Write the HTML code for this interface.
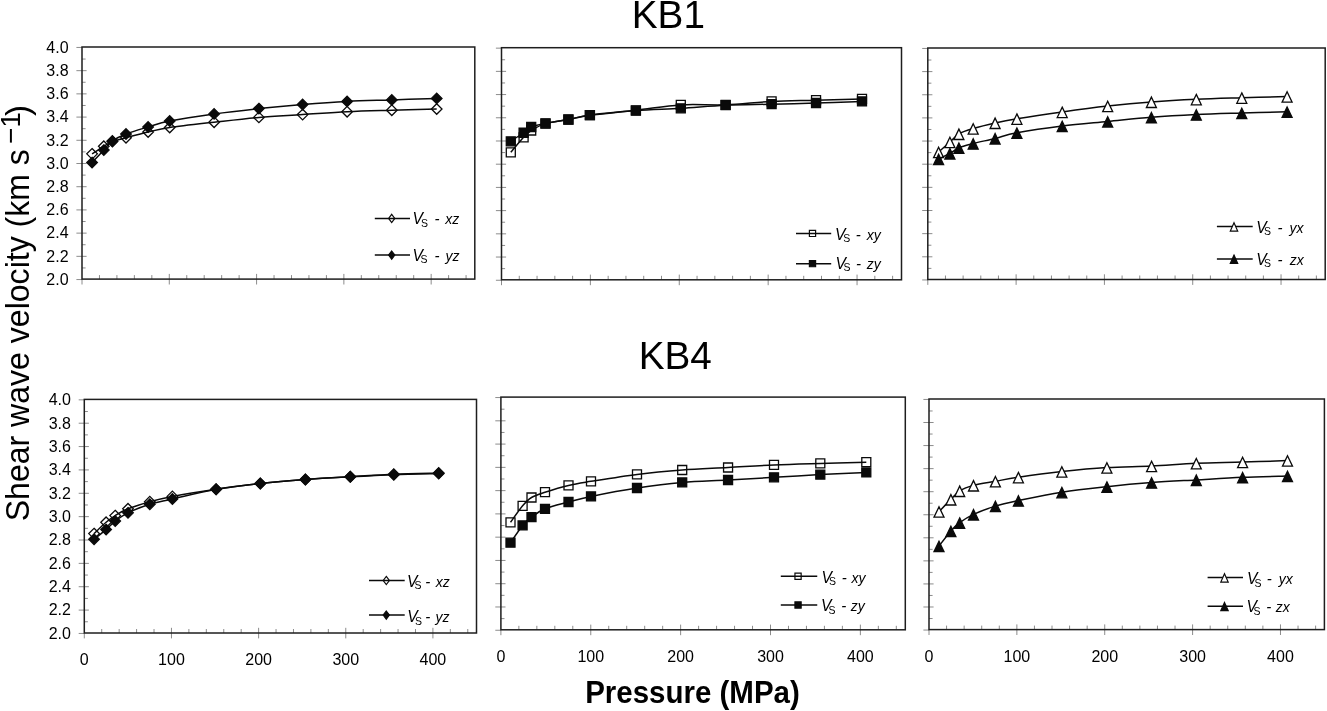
<!DOCTYPE html>
<html lang="en">
<head>
<meta charset="utf-8">
<title>Shear wave velocity vs pressure: KB1, KB4</title>
<style>
html,body{margin:0;padding:0;background:#fff;}
body{width:1327px;height:711px;overflow:hidden;}
svg text{font-family:"Liberation Sans", sans-serif;}
</style>
</head>
<body>
<svg width="1327" height="711" viewBox="0 0 1327 711" font-family='"Liberation Sans", sans-serif' style="display:block">
<g>
<path d="M76.4 279.55H82M82 267.94H85.6M76.4 256.34H86.6M82 244.74H85.6M76.4 233.13H86.6M82 221.53H85.6M76.4 209.92H86.6M82 198.31H85.6M76.4 186.71H86.6M82 175.11H85.6M76.4 163.5H86.6M82 151.89H85.6M76.4 140.29H86.6M82 128.69H85.6M76.4 117.08H86.6M82 105.48H85.6M76.4 93.87H86.6M82 82.26H85.6M76.4 70.66H86.6M82 59.05H85.6M76.4 47.45H82M82 279.1V284.5M99.46 275.1V279.1M116.92 275.1V279.1M134.37 275.1V279.1M151.83 275.1V279.1M169.29 273.9V284.5M186.75 275.1V279.1M204.2 275.1V279.1M221.66 275.1V279.1M239.12 275.1V279.1M256.58 273.9V284.5M274.04 275.1V279.1M291.49 275.1V279.1M308.95 275.1V279.1M326.41 275.1V279.1M343.87 273.9V284.5M361.32 275.1V279.1M378.78 275.1V279.1M396.24 275.1V279.1M413.7 275.1V279.1M431.16 273.9V284.5M448.61 275.1V279.1M466.07 275.1V279.1" stroke="#8c8c8c" stroke-width="1" fill="none"/>
<rect x="82" y="47" width="392.8" height="232.1" fill="none" stroke="#1e1e1e" stroke-width="1.5"/>
<g><polygon points="92.06,148.55 97.36,153.85 92.06,159.15 86.76,153.85" fill="#fff" stroke="#0a0a0a" stroke-width="1.3" stroke-linejoin="miter"/><polygon points="103.8,141 109.1,146.3 103.8,151.6 98.5,146.3" fill="#fff" stroke="#0a0a0a" stroke-width="1.3" stroke-linejoin="miter"/><polygon points="112.4,136.2 117.7,141.5 112.4,146.8 107.1,141.5" fill="#fff" stroke="#0a0a0a" stroke-width="1.3" stroke-linejoin="miter"/><polygon points="126,132.4 131.3,137.7 126,143 120.7,137.7" fill="#fff" stroke="#0a0a0a" stroke-width="1.3" stroke-linejoin="miter"/><polygon points="148.1,126.7 153.4,132 148.1,137.3 142.8,132" fill="#fff" stroke="#0a0a0a" stroke-width="1.3" stroke-linejoin="miter"/><polygon points="169.7,122.2 175,127.5 169.7,132.8 164.4,127.5" fill="#fff" stroke="#0a0a0a" stroke-width="1.3" stroke-linejoin="miter"/><polygon points="214.1,116.9 219.4,122.2 214.1,127.5 208.8,122.2" fill="#fff" stroke="#0a0a0a" stroke-width="1.3" stroke-linejoin="miter"/><polygon points="258.9,112.1 264.2,117.4 258.9,122.7 253.6,117.4" fill="#fff" stroke="#0a0a0a" stroke-width="1.3" stroke-linejoin="miter"/><polygon points="302.6,109.3 307.9,114.6 302.6,119.9 297.3,114.6" fill="#fff" stroke="#0a0a0a" stroke-width="1.3" stroke-linejoin="miter"/><polygon points="347.1,106.4 352.4,111.7 347.1,117 341.8,111.7" fill="#fff" stroke="#0a0a0a" stroke-width="1.3" stroke-linejoin="miter"/><polygon points="391.8,104.9 397.1,110.2 391.8,115.5 386.5,110.2" fill="#fff" stroke="#0a0a0a" stroke-width="1.3" stroke-linejoin="miter"/><polygon points="436.7,103.7 442,109 436.7,114.3 431.4,109" fill="#fff" stroke="#0a0a0a" stroke-width="1.3" stroke-linejoin="miter"/></g>
<path d="M92.06 153.85C94.02 152.59 100.41 148.36 103.8 146.3C107.19 144.24 108.7 142.93 112.4 141.5C116.1 140.07 120.05 139.28 126 137.7C131.95 136.12 140.82 133.7 148.1 132C155.38 130.3 158.7 129.13 169.7 127.5C180.7 125.87 199.23 123.88 214.1 122.2C228.97 120.52 244.15 118.67 258.9 117.4C273.65 116.13 287.9 115.55 302.6 114.6C317.3 113.65 332.23 112.43 347.1 111.7C361.97 110.97 376.87 110.65 391.8 110.2C406.73 109.75 429.22 109.2 436.7 109" fill="none" stroke="#0a0a0a" stroke-width="1.5"/>
<path d="M92.06 162.6C94.02 160.52 100.41 153.7 103.8 150.1C107.19 146.5 108.7 143.68 112.4 141C116.1 138.32 120.05 136.33 126 134C131.95 131.67 140.82 129.17 148.1 127C155.38 124.83 158.7 123.18 169.7 121C180.7 118.82 199.23 115.97 214.1 113.9C228.97 111.83 244.15 110.17 258.9 108.6C273.65 107.03 287.9 105.7 302.6 104.5C317.3 103.3 332.23 102.17 347.1 101.4C361.97 100.63 376.87 100.4 391.8 99.9C406.73 99.4 429.22 98.65 436.7 98.4" fill="none" stroke="#0a0a0a" stroke-width="1.5"/>
<g><polygon points="92.06,157.3 97.36,162.6 92.06,167.9 86.76,162.6" fill="#0a0a0a" stroke="#0a0a0a" stroke-width="1.3" stroke-linejoin="miter"/><polygon points="103.8,144.8 109.1,150.1 103.8,155.4 98.5,150.1" fill="#0a0a0a" stroke="#0a0a0a" stroke-width="1.3" stroke-linejoin="miter"/><polygon points="112.4,135.7 117.7,141 112.4,146.3 107.1,141" fill="#0a0a0a" stroke="#0a0a0a" stroke-width="1.3" stroke-linejoin="miter"/><polygon points="126,128.7 131.3,134 126,139.3 120.7,134" fill="#0a0a0a" stroke="#0a0a0a" stroke-width="1.3" stroke-linejoin="miter"/><polygon points="148.1,121.7 153.4,127 148.1,132.3 142.8,127" fill="#0a0a0a" stroke="#0a0a0a" stroke-width="1.3" stroke-linejoin="miter"/><polygon points="169.7,115.7 175,121 169.7,126.3 164.4,121" fill="#0a0a0a" stroke="#0a0a0a" stroke-width="1.3" stroke-linejoin="miter"/><polygon points="214.1,108.6 219.4,113.9 214.1,119.2 208.8,113.9" fill="#0a0a0a" stroke="#0a0a0a" stroke-width="1.3" stroke-linejoin="miter"/><polygon points="258.9,103.3 264.2,108.6 258.9,113.9 253.6,108.6" fill="#0a0a0a" stroke="#0a0a0a" stroke-width="1.3" stroke-linejoin="miter"/><polygon points="302.6,99.2 307.9,104.5 302.6,109.8 297.3,104.5" fill="#0a0a0a" stroke="#0a0a0a" stroke-width="1.3" stroke-linejoin="miter"/><polygon points="347.1,96.1 352.4,101.4 347.1,106.7 341.8,101.4" fill="#0a0a0a" stroke="#0a0a0a" stroke-width="1.3" stroke-linejoin="miter"/><polygon points="391.8,94.6 397.1,99.9 391.8,105.2 386.5,99.9" fill="#0a0a0a" stroke="#0a0a0a" stroke-width="1.3" stroke-linejoin="miter"/><polygon points="436.7,93.1 442,98.4 436.7,103.7 431.4,98.4" fill="#0a0a0a" stroke="#0a0a0a" stroke-width="1.3" stroke-linejoin="miter"/></g>
<polygon points="391.7,214.3 394.8,218.4 391.7,222.5 388.6,218.4" fill="#fff" stroke="#0a0a0a" stroke-width="1.2"/>
<path d="M374.8 218.4H410" stroke="#0a0a0a" stroke-width="1.5"/>
<polygon points="391.7,251 394.8,255.1 391.7,259.2 388.6,255.1" fill="#0a0a0a" stroke="#0a0a0a" stroke-width="1.2"/>
<path d="M374.8 255.1H410" stroke="#0a0a0a" stroke-width="1.5"/>
<text y="224.1" font-size="15" font-style="italic" fill="#000"><tspan x="412.6" font-size="15.7">V</tspan><tspan x="421.02" dy="2.6" font-style="normal" font-size="10.5">S</tspan><tspan x="434.53" dy="-2.6">-</tspan><tspan x="445.2" font-size="14">xz</tspan></text>
<text y="260.8" font-size="15" font-style="italic" fill="#000"><tspan x="412.4" font-size="15.7">V</tspan><tspan x="420.62" dy="2.6" font-style="normal" font-size="10.5">S</tspan><tspan x="434.53" dy="-2.6">-</tspan><tspan x="445.45" font-size="14">yz</tspan></text>
<text x="68.6" y="284.85" font-size="16" text-anchor="end" fill="#000">2.0</text>
<text x="68.6" y="261.64" font-size="16" text-anchor="end" fill="#000">2.2</text>
<text x="68.6" y="238.43" font-size="16" text-anchor="end" fill="#000">2.4</text>
<text x="68.6" y="215.22" font-size="16" text-anchor="end" fill="#000">2.6</text>
<text x="68.6" y="192.01" font-size="16" text-anchor="end" fill="#000">2.8</text>
<text x="68.6" y="168.8" font-size="16" text-anchor="end" fill="#000">3.0</text>
<text x="68.6" y="145.59" font-size="16" text-anchor="end" fill="#000">3.2</text>
<text x="68.6" y="122.38" font-size="16" text-anchor="end" fill="#000">3.4</text>
<text x="68.6" y="99.17" font-size="16" text-anchor="end" fill="#000">3.6</text>
<text x="68.6" y="75.96" font-size="16" text-anchor="end" fill="#000">3.8</text>
<text x="68.6" y="52.75" font-size="16" text-anchor="end" fill="#000">4.0</text>
</g>
<g>
<path d="M495.9 280.25H501.5M501.5 268.64H505.1M495.9 257.04H506.1M501.5 245.44H505.1M495.9 233.83H506.1M501.5 222.22H505.1M495.9 210.62H506.1M501.5 199.01H505.1M495.9 187.41H506.1M501.5 175.81H505.1M495.9 164.2H506.1M501.5 152.59H505.1M495.9 140.99H506.1M501.5 129.38H505.1M495.9 117.78H506.1M501.5 106.17H505.1M495.9 94.57H506.1M501.5 82.96H505.1M495.9 71.36H506.1M501.5 59.75H505.1M495.9 48.15H501.5M501.5 279.8V285.2M519.28 275.8V279.8M537.06 275.8V279.8M554.83 275.8V279.8M572.61 275.8V279.8M590.39 274.6V285.2M608.17 275.8V279.8M625.94 275.8V279.8M643.72 275.8V279.8M661.5 275.8V279.8M679.28 274.6V285.2M697.06 275.8V279.8M714.83 275.8V279.8M732.61 275.8V279.8M750.39 275.8V279.8M768.17 274.6V285.2M785.94 275.8V279.8M803.72 275.8V279.8M821.5 275.8V279.8M839.28 275.8V279.8M857.06 274.6V285.2M874.83 275.8V279.8M892.61 275.8V279.8" stroke="#8c8c8c" stroke-width="1" fill="none"/>
<rect x="501.5" y="47.7" width="400" height="232.1" fill="none" stroke="#1e1e1e" stroke-width="1.5"/>
<g><polygon points="506.3,147.8 515.3,147.8 515.3,156.8 506.3,156.8" fill="#fff" stroke="#0a0a0a" stroke-width="1.3" stroke-linejoin="miter"/><polygon points="519.1,132.8 528.1,132.8 528.1,141.8 519.1,141.8" fill="#fff" stroke="#0a0a0a" stroke-width="1.3" stroke-linejoin="miter"/><polygon points="526.7,126 535.7,126 535.7,135 526.7,135" fill="#fff" stroke="#0a0a0a" stroke-width="1.3" stroke-linejoin="miter"/><polygon points="541,119.1 550,119.1 550,128.1 541,128.1" fill="#fff" stroke="#0a0a0a" stroke-width="1.3" stroke-linejoin="miter"/><polygon points="563.9,115.1 572.9,115.1 572.9,124.1 563.9,124.1" fill="#fff" stroke="#0a0a0a" stroke-width="1.3" stroke-linejoin="miter"/><polygon points="585.4,110.7 594.4,110.7 594.4,119.7 585.4,119.7" fill="#fff" stroke="#0a0a0a" stroke-width="1.3" stroke-linejoin="miter"/><polygon points="631.4,105.8 640.4,105.8 640.4,114.8 631.4,114.8" fill="#fff" stroke="#0a0a0a" stroke-width="1.3" stroke-linejoin="miter"/><polygon points="676.3,100.4 685.3,100.4 685.3,109.4 676.3,109.4" fill="#fff" stroke="#0a0a0a" stroke-width="1.3" stroke-linejoin="miter"/><polygon points="721.1,100.3 730.1,100.3 730.1,109.3 721.1,109.3" fill="#fff" stroke="#0a0a0a" stroke-width="1.3" stroke-linejoin="miter"/><polygon points="767.1,96.9 776.1,96.9 776.1,105.9 767.1,105.9" fill="#fff" stroke="#0a0a0a" stroke-width="1.3" stroke-linejoin="miter"/><polygon points="811.55,95.7 820.55,95.7 820.55,104.7 811.55,104.7" fill="#fff" stroke="#0a0a0a" stroke-width="1.3" stroke-linejoin="miter"/><polygon points="857.5,94.4 866.5,94.4 866.5,103.4 857.5,103.4" fill="#fff" stroke="#0a0a0a" stroke-width="1.3" stroke-linejoin="miter"/></g>
<path d="M510.8 152.3C512.93 149.8 520.2 140.93 523.6 137.3C527 133.67 527.55 132.78 531.2 130.5C534.85 128.22 539.3 125.42 545.5 123.6C551.7 121.78 561 121 568.4 119.6C575.8 118.2 578.65 116.75 589.9 115.2C601.15 113.65 620.75 112.02 635.9 110.3C651.05 108.58 665.85 105.82 680.8 104.9C695.75 103.98 710.47 105.38 725.6 104.8C740.73 104.22 756.53 102.17 771.6 101.4C786.67 100.63 800.98 100.62 816.05 100.2C831.12 99.78 854.34 99.12 862 98.9" fill="none" stroke="#0a0a0a" stroke-width="1.5"/>
<path d="M510.8 141.3C512.93 139.88 520.2 135.13 523.6 132.75C527 130.37 527.55 128.56 531.2 127C534.85 125.44 539.3 124.65 545.5 123.4C551.7 122.15 561 120.88 568.4 119.5C575.8 118.12 578.65 116.58 589.9 115.1C601.15 113.62 620.75 111.73 635.9 110.6C651.05 109.47 665.85 109.2 680.8 108.3C695.75 107.4 710.47 105.88 725.6 105.2C740.73 104.52 756.53 104.57 771.6 104.2C786.67 103.83 800.98 103.47 816.05 103C831.12 102.53 854.34 101.67 862 101.4" fill="none" stroke="#0a0a0a" stroke-width="1.5"/>
<g><polygon points="506.3,136.8 515.3,136.8 515.3,145.8 506.3,145.8" fill="#0a0a0a" stroke="#0a0a0a" stroke-width="1.3" stroke-linejoin="miter"/><polygon points="519.1,128.25 528.1,128.25 528.1,137.25 519.1,137.25" fill="#0a0a0a" stroke="#0a0a0a" stroke-width="1.3" stroke-linejoin="miter"/><polygon points="526.7,122.5 535.7,122.5 535.7,131.5 526.7,131.5" fill="#0a0a0a" stroke="#0a0a0a" stroke-width="1.3" stroke-linejoin="miter"/><polygon points="541,118.9 550,118.9 550,127.9 541,127.9" fill="#0a0a0a" stroke="#0a0a0a" stroke-width="1.3" stroke-linejoin="miter"/><polygon points="563.9,115 572.9,115 572.9,124 563.9,124" fill="#0a0a0a" stroke="#0a0a0a" stroke-width="1.3" stroke-linejoin="miter"/><polygon points="585.4,110.6 594.4,110.6 594.4,119.6 585.4,119.6" fill="#0a0a0a" stroke="#0a0a0a" stroke-width="1.3" stroke-linejoin="miter"/><polygon points="631.4,106.1 640.4,106.1 640.4,115.1 631.4,115.1" fill="#0a0a0a" stroke="#0a0a0a" stroke-width="1.3" stroke-linejoin="miter"/><polygon points="676.3,103.8 685.3,103.8 685.3,112.8 676.3,112.8" fill="#0a0a0a" stroke="#0a0a0a" stroke-width="1.3" stroke-linejoin="miter"/><polygon points="721.1,100.7 730.1,100.7 730.1,109.7 721.1,109.7" fill="#0a0a0a" stroke="#0a0a0a" stroke-width="1.3" stroke-linejoin="miter"/><polygon points="767.1,99.7 776.1,99.7 776.1,108.7 767.1,108.7" fill="#0a0a0a" stroke="#0a0a0a" stroke-width="1.3" stroke-linejoin="miter"/><polygon points="811.55,98.5 820.55,98.5 820.55,107.5 811.55,107.5" fill="#0a0a0a" stroke="#0a0a0a" stroke-width="1.3" stroke-linejoin="miter"/><polygon points="857.5,96.9 866.5,96.9 866.5,105.9 857.5,105.9" fill="#0a0a0a" stroke="#0a0a0a" stroke-width="1.3" stroke-linejoin="miter"/></g>
<polygon points="809.4,230.3 815.6,230.3 815.6,236.5 809.4,236.5" fill="#fff" stroke="#0a0a0a" stroke-width="1.2"/>
<path d="M796 233.4H831.2" stroke="#0a0a0a" stroke-width="1.5"/>
<polygon points="809.4,260.55 815.6,260.55 815.6,266.75 809.4,266.75" fill="#0a0a0a" stroke="#0a0a0a" stroke-width="1.2"/>
<path d="M796 263.65H831.2" stroke="#0a0a0a" stroke-width="1.5"/>
<text y="239.5" font-size="15" font-style="italic" fill="#000"><tspan x="835" font-size="15.7">V</tspan><tspan x="843.32" dy="2.6" font-style="normal" font-size="10.5">S</tspan><tspan x="855.83" dy="-2.6">-</tspan><tspan x="866.7" font-size="14">xy</tspan></text>
<text y="268.6" font-size="15" font-style="italic" fill="#000"><tspan x="835.6" font-size="15.7">V</tspan><tspan x="843.52" dy="2.6" font-style="normal" font-size="10.5">S</tspan><tspan x="856.03" dy="-2.6">-</tspan><tspan x="866.7" font-size="14">zy</tspan></text>
</g>
<g>
<path d="M922.2 279.95H927.8M927.8 268.38H931.4M922.2 256.8H932.4M927.8 245.22H931.4M922.2 233.65H932.4M927.8 222.07H931.4M922.2 210.5H932.4M927.8 198.92H931.4M922.2 187.35H932.4M927.8 175.77H931.4M922.2 164.2H932.4M927.8 152.62H931.4M922.2 141.05H932.4M927.8 129.47H931.4M922.2 117.9H932.4M927.8 106.33H931.4M922.2 94.75H932.4M927.8 83.17H931.4M922.2 71.6H932.4M927.8 60.02H931.4M922.2 48.45H927.8M927.8 279.5V284.9M945.46 275.5V279.5M963.12 275.5V279.5M980.79 275.5V279.5M998.45 275.5V279.5M1016.11 274.3V284.9M1033.77 275.5V279.5M1051.44 275.5V279.5M1069.1 275.5V279.5M1086.76 275.5V279.5M1104.42 274.3V284.9M1122.08 275.5V279.5M1139.75 275.5V279.5M1157.41 275.5V279.5M1175.07 275.5V279.5M1192.73 274.3V284.9M1210.4 275.5V279.5M1228.06 275.5V279.5M1245.72 275.5V279.5M1263.38 275.5V279.5M1281.04 274.3V284.9M1298.71 275.5V279.5M1316.37 275.5V279.5" stroke="#8c8c8c" stroke-width="1" fill="none"/>
<rect x="927.8" y="48" width="397.4" height="231.5" fill="none" stroke="#1e1e1e" stroke-width="1.5"/>
<path d="M938.6 152C940.48 150.33 946.52 145.02 949.9 142C953.28 138.98 955.02 136.15 958.9 133.9C962.78 131.65 967.17 130.33 973.2 128.5C979.23 126.67 987.82 124.53 995.1 122.9C1002.38 121.27 1005.72 120.53 1016.9 118.7C1028.08 116.88 1047.07 114.05 1062.2 111.95C1077.33 109.85 1092.83 107.77 1107.7 106.1C1122.57 104.42 1136.63 103.05 1151.4 101.9C1166.17 100.75 1181.23 99.9 1196.3 99.2C1211.37 98.5 1226.67 98.15 1241.8 97.7C1256.93 97.25 1279.55 96.7 1287.1 96.5" fill="none" stroke="#0a0a0a" stroke-width="1.5"/>
<g><polygon points="938.6,147.2 943.6,157.6 933.6,157.6" fill="#fff" stroke="#0a0a0a" stroke-width="1.3" stroke-linejoin="miter"/><polygon points="949.9,137.2 954.9,147.6 944.9,147.6" fill="#fff" stroke="#0a0a0a" stroke-width="1.3" stroke-linejoin="miter"/><polygon points="958.9,129.1 963.9,139.5 953.9,139.5" fill="#fff" stroke="#0a0a0a" stroke-width="1.3" stroke-linejoin="miter"/><polygon points="973.2,123.7 978.2,134.1 968.2,134.1" fill="#fff" stroke="#0a0a0a" stroke-width="1.3" stroke-linejoin="miter"/><polygon points="995.1,118.1 1000.1,128.5 990.1,128.5" fill="#fff" stroke="#0a0a0a" stroke-width="1.3" stroke-linejoin="miter"/><polygon points="1016.9,113.9 1021.9,124.3 1011.9,124.3" fill="#fff" stroke="#0a0a0a" stroke-width="1.3" stroke-linejoin="miter"/><polygon points="1062.2,107.15 1067.2,117.55 1057.2,117.55" fill="#fff" stroke="#0a0a0a" stroke-width="1.3" stroke-linejoin="miter"/><polygon points="1107.7,101.3 1112.7,111.7 1102.7,111.7" fill="#fff" stroke="#0a0a0a" stroke-width="1.3" stroke-linejoin="miter"/><polygon points="1151.4,97.1 1156.4,107.5 1146.4,107.5" fill="#fff" stroke="#0a0a0a" stroke-width="1.3" stroke-linejoin="miter"/><polygon points="1196.3,94.4 1201.3,104.8 1191.3,104.8" fill="#fff" stroke="#0a0a0a" stroke-width="1.3" stroke-linejoin="miter"/><polygon points="1241.8,92.9 1246.8,103.3 1236.8,103.3" fill="#fff" stroke="#0a0a0a" stroke-width="1.3" stroke-linejoin="miter"/><polygon points="1287.1,91.7 1292.1,102.1 1282.1,102.1" fill="#fff" stroke="#0a0a0a" stroke-width="1.3" stroke-linejoin="miter"/></g>
<path d="M938.6 159.1C940.48 158.15 946.52 155.28 949.9 153.4C953.28 151.52 955.02 149.43 958.9 147.8C962.78 146.17 967.17 145.17 973.2 143.6C979.23 142.03 987.82 140.21 995.1 138.4C1002.38 136.59 1005.72 134.82 1016.9 132.75C1028.08 130.68 1047.07 127.84 1062.2 125.97C1077.33 124.09 1092.83 122.94 1107.7 121.5C1122.57 120.06 1136.63 118.45 1151.4 117.3C1166.17 116.15 1181.23 115.31 1196.3 114.6C1211.37 113.89 1226.67 113.52 1241.8 113.05C1256.93 112.58 1279.55 112.01 1287.1 111.8" fill="none" stroke="#0a0a0a" stroke-width="1.5"/>
<g><polygon points="938.6,154.3 943.6,164.7 933.6,164.7" fill="#0a0a0a" stroke="#0a0a0a" stroke-width="1.3" stroke-linejoin="miter"/><polygon points="949.9,148.6 954.9,159 944.9,159" fill="#0a0a0a" stroke="#0a0a0a" stroke-width="1.3" stroke-linejoin="miter"/><polygon points="958.9,143 963.9,153.4 953.9,153.4" fill="#0a0a0a" stroke="#0a0a0a" stroke-width="1.3" stroke-linejoin="miter"/><polygon points="973.2,138.8 978.2,149.2 968.2,149.2" fill="#0a0a0a" stroke="#0a0a0a" stroke-width="1.3" stroke-linejoin="miter"/><polygon points="995.1,133.6 1000.1,144 990.1,144" fill="#0a0a0a" stroke="#0a0a0a" stroke-width="1.3" stroke-linejoin="miter"/><polygon points="1016.9,127.95 1021.9,138.35 1011.9,138.35" fill="#0a0a0a" stroke="#0a0a0a" stroke-width="1.3" stroke-linejoin="miter"/><polygon points="1062.2,121.17 1067.2,131.57 1057.2,131.57" fill="#0a0a0a" stroke="#0a0a0a" stroke-width="1.3" stroke-linejoin="miter"/><polygon points="1107.7,116.7 1112.7,127.1 1102.7,127.1" fill="#0a0a0a" stroke="#0a0a0a" stroke-width="1.3" stroke-linejoin="miter"/><polygon points="1151.4,112.5 1156.4,122.9 1146.4,122.9" fill="#0a0a0a" stroke="#0a0a0a" stroke-width="1.3" stroke-linejoin="miter"/><polygon points="1196.3,109.8 1201.3,120.2 1191.3,120.2" fill="#0a0a0a" stroke="#0a0a0a" stroke-width="1.3" stroke-linejoin="miter"/><polygon points="1241.8,108.25 1246.8,118.65 1236.8,118.65" fill="#0a0a0a" stroke="#0a0a0a" stroke-width="1.3" stroke-linejoin="miter"/><polygon points="1287.1,107 1292.1,117.4 1282.1,117.4" fill="#0a0a0a" stroke="#0a0a0a" stroke-width="1.3" stroke-linejoin="miter"/></g>
<path d="M1216.9 226.6H1252.7" stroke="#0a0a0a" stroke-width="1.5"/>
<polygon points="1234,222.8 1237.7,231.1 1230.3,231.1" fill="#fff" stroke="#0a0a0a" stroke-width="1.2"/>
<path d="M1216.9 258.9H1252.7" stroke="#0a0a0a" stroke-width="1.5"/>
<polygon points="1234,255.1 1237.7,263.4 1230.3,263.4" fill="#0a0a0a" stroke="#0a0a0a" stroke-width="1.2"/>
<text y="232.7" font-size="15" font-style="italic" fill="#000"><tspan x="1256.3" font-size="15.7">V</tspan><tspan x="1264.02" dy="2.6" font-style="normal" font-size="10.5">S</tspan><tspan x="1277.53" dy="-2.6">-</tspan><tspan x="1289.45" font-size="14">yx</tspan></text>
<text y="264.5" font-size="15" font-style="italic" fill="#000"><tspan x="1256.3" font-size="15.7">V</tspan><tspan x="1264.02" dy="2.6" font-style="normal" font-size="10.5">S</tspan><tspan x="1277.53" dy="-2.6">-</tspan><tspan x="1289.7" font-size="14">zx</tspan></text>
</g>
<g>
<path d="M78.7 633.45H84.3M84.3 621.77H87.9M78.7 610.09H88.9M84.3 598.41H87.9M78.7 586.73H88.9M84.3 575.05H87.9M78.7 563.37H88.9M84.3 551.69H87.9M78.7 540.01H88.9M84.3 528.33H87.9M78.7 516.65H88.9M84.3 504.97H87.9M78.7 493.29H88.9M84.3 481.61H87.9M78.7 469.93H88.9M84.3 458.25H87.9M78.7 446.57H88.9M84.3 434.89H87.9M78.7 423.21H88.9M84.3 411.53H87.9M78.7 399.85H84.3M84.3 633V638.4M101.73 629V633M119.16 629V633M136.59 629V633M154.02 629V633M171.46 627.8V638.4M188.89 629V633M206.32 629V633M223.75 629V633M241.18 629V633M258.61 627.8V638.4M276.04 629V633M293.47 629V633M310.9 629V633M328.34 629V633M345.77 627.8V638.4M363.2 629V633M380.63 629V633M398.06 629V633M415.49 629V633M432.92 627.8V638.4M450.35 629V633M467.78 629V633" stroke="#8c8c8c" stroke-width="1" fill="none"/>
<rect x="84.3" y="399.4" width="392.2" height="233.6" fill="none" stroke="#1e1e1e" stroke-width="1.5"/>
<g><polygon points="94.06,528.3 99.36,533.6 94.06,538.9 88.76,533.6" fill="#fff" stroke="#0a0a0a" stroke-width="1.3" stroke-linejoin="miter"/><polygon points="106.1,517 111.4,522.3 106.1,527.6 100.8,522.3" fill="#fff" stroke="#0a0a0a" stroke-width="1.3" stroke-linejoin="miter"/><polygon points="115.2,510.3 120.5,515.6 115.2,520.9 109.9,515.6" fill="#fff" stroke="#0a0a0a" stroke-width="1.3" stroke-linejoin="miter"/><polygon points="128,503.5 133.3,508.8 128,514.1 122.7,508.8" fill="#fff" stroke="#0a0a0a" stroke-width="1.3" stroke-linejoin="miter"/><polygon points="149.8,496.4 155.1,501.7 149.8,507 144.5,501.7" fill="#fff" stroke="#0a0a0a" stroke-width="1.3" stroke-linejoin="miter"/><polygon points="172.4,491.1 177.7,496.4 172.4,501.7 167.1,496.4" fill="#fff" stroke="#0a0a0a" stroke-width="1.3" stroke-linejoin="miter"/><polygon points="216.1,484 221.4,489.3 216.1,494.6 210.8,489.3" fill="#fff" stroke="#0a0a0a" stroke-width="1.3" stroke-linejoin="miter"/><polygon points="260.3,478.2 265.6,483.5 260.3,488.8 255,483.5" fill="#fff" stroke="#0a0a0a" stroke-width="1.3" stroke-linejoin="miter"/><polygon points="305.4,474.2 310.7,479.5 305.4,484.8 300.1,479.5" fill="#fff" stroke="#0a0a0a" stroke-width="1.3" stroke-linejoin="miter"/><polygon points="350.3,471.5 355.6,476.8 350.3,482.1 345,476.8" fill="#fff" stroke="#0a0a0a" stroke-width="1.3" stroke-linejoin="miter"/><polygon points="393.8,468.9 399.1,474.2 393.8,479.5 388.5,474.2" fill="#fff" stroke="#0a0a0a" stroke-width="1.3" stroke-linejoin="miter"/><polygon points="438.7,467.7 444,473 438.7,478.3 433.4,473" fill="#fff" stroke="#0a0a0a" stroke-width="1.3" stroke-linejoin="miter"/></g>
<path d="M94.06 533.6C96.07 531.72 102.58 525.3 106.1 522.3C109.62 519.3 111.55 517.85 115.2 515.6C118.85 513.35 122.23 511.12 128 508.8C133.77 506.48 142.4 503.77 149.8 501.7C157.2 499.63 161.35 498.47 172.4 496.4C183.45 494.33 201.45 491.45 216.1 489.3C230.75 487.15 245.42 485.13 260.3 483.5C275.18 481.87 290.4 480.62 305.4 479.5C320.4 478.38 335.57 477.68 350.3 476.8C365.03 475.92 379.07 474.83 393.8 474.2C408.53 473.57 431.22 473.2 438.7 473" fill="none" stroke="#0a0a0a" stroke-width="1.5"/>
<path d="M94.06 539.2C96.07 537.6 102.58 532.62 106.1 529.6C109.62 526.58 111.55 523.89 115.2 521.1C118.85 518.31 122.23 515.65 128 512.85C133.77 510.05 142.4 506.61 149.8 504.3C157.2 501.99 161.35 501.52 172.4 499C183.45 496.48 201.45 491.78 216.1 489.2C230.75 486.62 245.42 485.12 260.3 483.5C275.18 481.88 290.4 480.62 305.4 479.5C320.4 478.38 335.57 477.6 350.3 476.8C365.03 476 379.07 475.25 393.8 474.7C408.53 474.15 431.22 473.7 438.7 473.5" fill="none" stroke="#0a0a0a" stroke-width="1.5"/>
<g><polygon points="94.06,533.9 99.36,539.2 94.06,544.5 88.76,539.2" fill="#0a0a0a" stroke="#0a0a0a" stroke-width="1.3" stroke-linejoin="miter"/><polygon points="106.1,524.3 111.4,529.6 106.1,534.9 100.8,529.6" fill="#0a0a0a" stroke="#0a0a0a" stroke-width="1.3" stroke-linejoin="miter"/><polygon points="115.2,515.8 120.5,521.1 115.2,526.4 109.9,521.1" fill="#0a0a0a" stroke="#0a0a0a" stroke-width="1.3" stroke-linejoin="miter"/><polygon points="128,507.55 133.3,512.85 128,518.15 122.7,512.85" fill="#0a0a0a" stroke="#0a0a0a" stroke-width="1.3" stroke-linejoin="miter"/><polygon points="149.8,499 155.1,504.3 149.8,509.6 144.5,504.3" fill="#0a0a0a" stroke="#0a0a0a" stroke-width="1.3" stroke-linejoin="miter"/><polygon points="172.4,493.7 177.7,499 172.4,504.3 167.1,499" fill="#0a0a0a" stroke="#0a0a0a" stroke-width="1.3" stroke-linejoin="miter"/><polygon points="216.1,483.9 221.4,489.2 216.1,494.5 210.8,489.2" fill="#0a0a0a" stroke="#0a0a0a" stroke-width="1.3" stroke-linejoin="miter"/><polygon points="260.3,478.2 265.6,483.5 260.3,488.8 255,483.5" fill="#0a0a0a" stroke="#0a0a0a" stroke-width="1.3" stroke-linejoin="miter"/><polygon points="305.4,474.2 310.7,479.5 305.4,484.8 300.1,479.5" fill="#0a0a0a" stroke="#0a0a0a" stroke-width="1.3" stroke-linejoin="miter"/><polygon points="350.3,471.5 355.6,476.8 350.3,482.1 345,476.8" fill="#0a0a0a" stroke="#0a0a0a" stroke-width="1.3" stroke-linejoin="miter"/><polygon points="393.8,469.4 399.1,474.7 393.8,480 388.5,474.7" fill="#0a0a0a" stroke="#0a0a0a" stroke-width="1.3" stroke-linejoin="miter"/><polygon points="438.7,468.2 444,473.5 438.7,478.8 433.4,473.5" fill="#0a0a0a" stroke="#0a0a0a" stroke-width="1.3" stroke-linejoin="miter"/></g>
<polygon points="386.3,576.4 389.4,580.5 386.3,584.6 383.2,580.5" fill="#fff" stroke="#0a0a0a" stroke-width="1.2"/>
<path d="M369 580.5H404.7" stroke="#0a0a0a" stroke-width="1.5"/>
<polygon points="386.3,611 389.4,615.1 386.3,619.2 383.2,615.1" fill="#0a0a0a" stroke="#0a0a0a" stroke-width="1.2"/>
<path d="M369 615.1H404.7" stroke="#0a0a0a" stroke-width="1.5"/>
<text y="586.6" font-size="15" font-style="italic" fill="#000"><tspan x="406.9" font-size="15.7">V</tspan><tspan x="414.62" dy="2.6" font-style="normal" font-size="10.5">S</tspan><tspan x="425.33" dy="-2.6">-</tspan><tspan x="435.7" font-size="14">xz</tspan></text>
<text y="622" font-size="15" font-style="italic" fill="#000"><tspan x="407.35" font-size="15.7">V</tspan><tspan x="415.07" dy="2.6" font-style="normal" font-size="10.5">S</tspan><tspan x="425.28" dy="-2.6">-</tspan><tspan x="435.6" font-size="14">yz</tspan></text>
<text x="70.9" y="638.75" font-size="16" text-anchor="end" fill="#000">2.0</text>
<text x="70.9" y="615.39" font-size="16" text-anchor="end" fill="#000">2.2</text>
<text x="70.9" y="592.03" font-size="16" text-anchor="end" fill="#000">2.4</text>
<text x="70.9" y="568.67" font-size="16" text-anchor="end" fill="#000">2.6</text>
<text x="70.9" y="545.31" font-size="16" text-anchor="end" fill="#000">2.8</text>
<text x="70.9" y="521.95" font-size="16" text-anchor="end" fill="#000">3.0</text>
<text x="70.9" y="498.59" font-size="16" text-anchor="end" fill="#000">3.2</text>
<text x="70.9" y="475.23" font-size="16" text-anchor="end" fill="#000">3.4</text>
<text x="70.9" y="451.87" font-size="16" text-anchor="end" fill="#000">3.6</text>
<text x="70.9" y="428.51" font-size="16" text-anchor="end" fill="#000">3.8</text>
<text x="70.9" y="405.15" font-size="16" text-anchor="end" fill="#000">4.0</text>
<text x="84.3" y="665.2" font-size="16" text-anchor="middle" fill="#000">0</text>
<text x="171.46" y="665.2" font-size="16" text-anchor="middle" fill="#000">100</text>
<text x="258.61" y="665.2" font-size="16" text-anchor="middle" fill="#000">200</text>
<text x="345.77" y="665.2" font-size="16" text-anchor="middle" fill="#000">300</text>
<text x="432.92" y="665.2" font-size="16" text-anchor="middle" fill="#000">400</text>
</g>
<g>
<path d="M495.3 630.25H500.9M500.9 618.62H504.5M495.3 606.98H505.5M500.9 595.35H504.5M495.3 583.71H505.5M500.9 572.08H504.5M495.3 560.44H505.5M500.9 548.81H504.5M495.3 537.17H505.5M500.9 525.54H504.5M495.3 513.9H505.5M500.9 502.26H504.5M495.3 490.63H505.5M500.9 478.99H504.5M495.3 467.36H505.5M500.9 455.72H504.5M495.3 444.09H505.5M500.9 432.45H504.5M495.3 420.82H505.5M500.9 409.19H504.5M495.3 397.55H500.9M500.9 629.8V635.2M518.87 625.8V629.8M536.85 625.8V629.8M554.82 625.8V629.8M572.79 625.8V629.8M590.77 624.6V635.2M608.74 625.8V629.8M626.71 625.8V629.8M644.69 625.8V629.8M662.66 625.8V629.8M680.63 624.6V635.2M698.61 625.8V629.8M716.58 625.8V629.8M734.55 625.8V629.8M752.53 625.8V629.8M770.5 624.6V635.2M788.47 625.8V629.8M806.45 625.8V629.8M824.42 625.8V629.8M842.39 625.8V629.8M860.37 624.6V635.2M878.34 625.8V629.8M896.31 625.8V629.8" stroke="#8c8c8c" stroke-width="1" fill="none"/>
<rect x="500.9" y="397.1" width="404.4" height="232.7" fill="none" stroke="#1e1e1e" stroke-width="1.5"/>
<g><polygon points="506,517.8 515,517.8 515,526.8 506,526.8" fill="#fff" stroke="#0a0a0a" stroke-width="1.3" stroke-linejoin="miter"/><polygon points="518.1,501.3 527.1,501.3 527.1,510.3 518.1,510.3" fill="#fff" stroke="#0a0a0a" stroke-width="1.3" stroke-linejoin="miter"/><polygon points="527,493 536,493 536,502 527,502" fill="#fff" stroke="#0a0a0a" stroke-width="1.3" stroke-linejoin="miter"/><polygon points="540.5,487.7 549.5,487.7 549.5,496.7 540.5,496.7" fill="#fff" stroke="#0a0a0a" stroke-width="1.3" stroke-linejoin="miter"/><polygon points="564,480.9 573,480.9 573,489.9 564,489.9" fill="#fff" stroke="#0a0a0a" stroke-width="1.3" stroke-linejoin="miter"/><polygon points="586.5,476.85 595.5,476.85 595.5,485.85 586.5,485.85" fill="#fff" stroke="#0a0a0a" stroke-width="1.3" stroke-linejoin="miter"/><polygon points="632.5,469.9 641.5,469.9 641.5,478.9 632.5,478.9" fill="#fff" stroke="#0a0a0a" stroke-width="1.3" stroke-linejoin="miter"/><polygon points="677.7,465.5 686.7,465.5 686.7,474.5 677.7,474.5" fill="#fff" stroke="#0a0a0a" stroke-width="1.3" stroke-linejoin="miter"/><polygon points="723.56,463 732.56,463 732.56,472 723.56,472" fill="#fff" stroke="#0a0a0a" stroke-width="1.3" stroke-linejoin="miter"/><polygon points="769.5,460.4 778.5,460.4 778.5,469.4 769.5,469.4" fill="#fff" stroke="#0a0a0a" stroke-width="1.3" stroke-linejoin="miter"/><polygon points="815.8,458.9 824.8,458.9 824.8,467.9 815.8,467.9" fill="#fff" stroke="#0a0a0a" stroke-width="1.3" stroke-linejoin="miter"/><polygon points="861.8,457.7 870.8,457.7 870.8,466.7 861.8,466.7" fill="#fff" stroke="#0a0a0a" stroke-width="1.3" stroke-linejoin="miter"/></g>
<path d="M510.5 522.3C512.52 519.55 519.1 509.93 522.6 505.8C526.1 501.67 527.77 499.77 531.5 497.5C535.23 495.23 538.83 494.22 545 492.2C551.17 490.18 560.83 487.21 568.5 485.4C576.17 483.59 579.58 483.18 591 481.35C602.42 479.52 621.8 476.29 637 474.4C652.2 472.51 667.02 471.15 682.2 470C697.38 468.85 712.76 468.35 728.06 467.5C743.36 466.65 758.63 465.58 774 464.9C789.37 464.22 804.92 463.85 820.3 463.4C835.68 462.95 858.63 462.4 866.3 462.2" fill="none" stroke="#0a0a0a" stroke-width="1.5"/>
<path d="M510.5 542.7C512.52 539.82 519.1 529.67 522.6 525.4C526.1 521.13 527.77 519.87 531.5 517.1C535.23 514.33 538.83 511.32 545 508.8C551.17 506.28 560.83 504.07 568.5 502C576.17 499.93 579.58 498.73 591 496.4C602.42 494.07 621.8 490.33 637 488C652.2 485.67 667.02 483.73 682.2 482.4C697.38 481.07 712.76 480.85 728.06 480C743.36 479.15 758.63 478.2 774 477.3C789.37 476.4 804.92 475.41 820.3 474.6C835.68 473.79 858.63 472.81 866.3 472.45" fill="none" stroke="#0a0a0a" stroke-width="1.5"/>
<g><polygon points="506,538.2 515,538.2 515,547.2 506,547.2" fill="#0a0a0a" stroke="#0a0a0a" stroke-width="1.3" stroke-linejoin="miter"/><polygon points="518.1,520.9 527.1,520.9 527.1,529.9 518.1,529.9" fill="#0a0a0a" stroke="#0a0a0a" stroke-width="1.3" stroke-linejoin="miter"/><polygon points="527,512.6 536,512.6 536,521.6 527,521.6" fill="#0a0a0a" stroke="#0a0a0a" stroke-width="1.3" stroke-linejoin="miter"/><polygon points="540.5,504.3 549.5,504.3 549.5,513.3 540.5,513.3" fill="#0a0a0a" stroke="#0a0a0a" stroke-width="1.3" stroke-linejoin="miter"/><polygon points="564,497.5 573,497.5 573,506.5 564,506.5" fill="#0a0a0a" stroke="#0a0a0a" stroke-width="1.3" stroke-linejoin="miter"/><polygon points="586.5,491.9 595.5,491.9 595.5,500.9 586.5,500.9" fill="#0a0a0a" stroke="#0a0a0a" stroke-width="1.3" stroke-linejoin="miter"/><polygon points="632.5,483.5 641.5,483.5 641.5,492.5 632.5,492.5" fill="#0a0a0a" stroke="#0a0a0a" stroke-width="1.3" stroke-linejoin="miter"/><polygon points="677.7,477.9 686.7,477.9 686.7,486.9 677.7,486.9" fill="#0a0a0a" stroke="#0a0a0a" stroke-width="1.3" stroke-linejoin="miter"/><polygon points="723.56,475.5 732.56,475.5 732.56,484.5 723.56,484.5" fill="#0a0a0a" stroke="#0a0a0a" stroke-width="1.3" stroke-linejoin="miter"/><polygon points="769.5,472.8 778.5,472.8 778.5,481.8 769.5,481.8" fill="#0a0a0a" stroke="#0a0a0a" stroke-width="1.3" stroke-linejoin="miter"/><polygon points="815.8,470.1 824.8,470.1 824.8,479.1 815.8,479.1" fill="#0a0a0a" stroke="#0a0a0a" stroke-width="1.3" stroke-linejoin="miter"/><polygon points="861.8,467.95 870.8,467.95 870.8,476.95 861.8,476.95" fill="#0a0a0a" stroke="#0a0a0a" stroke-width="1.3" stroke-linejoin="miter"/></g>
<polygon points="794.95,573.1 801.15,573.1 801.15,579.3 794.95,579.3" fill="#fff" stroke="#0a0a0a" stroke-width="1.2"/>
<path d="M780.8 576.2H817.25" stroke="#0a0a0a" stroke-width="1.5"/>
<polygon points="794.95,601.9 801.15,601.9 801.15,608.1 794.95,608.1" fill="#0a0a0a" stroke="#0a0a0a" stroke-width="1.2"/>
<path d="M780.8 605H817.25" stroke="#0a0a0a" stroke-width="1.5"/>
<text y="582.6" font-size="15" font-style="italic" fill="#000"><tspan x="821.4" font-size="15.7">V</tspan><tspan x="829.12" dy="2.6" font-style="normal" font-size="10.5">S</tspan><tspan x="841.63" dy="-2.6">-</tspan><tspan x="851.6" font-size="14">xy</tspan></text>
<text y="611.3" font-size="15" font-style="italic" fill="#000"><tspan x="820.9" font-size="15.7">V</tspan><tspan x="828.62" dy="2.6" font-style="normal" font-size="10.5">S</tspan><tspan x="841.13" dy="-2.6">-</tspan><tspan x="850.8" font-size="14">zy</tspan></text>
<text x="500.9" y="661.6" font-size="16" text-anchor="middle" fill="#000">0</text>
<text x="590.77" y="661.6" font-size="16" text-anchor="middle" fill="#000">100</text>
<text x="680.63" y="661.6" font-size="16" text-anchor="middle" fill="#000">200</text>
<text x="770.5" y="661.6" font-size="16" text-anchor="middle" fill="#000">300</text>
<text x="860.37" y="661.6" font-size="16" text-anchor="middle" fill="#000">400</text>
</g>
<g>
<path d="M923.4 630.05H929M929 618.52H932.6M923.4 606.99H933.6M929 595.46H932.6M923.4 583.93H933.6M929 572.4H932.6M923.4 560.87H933.6M929 549.34H932.6M923.4 537.81H933.6M929 526.28H932.6M923.4 514.75H933.6M929 503.22H932.6M923.4 491.69H933.6M929 480.16H932.6M923.4 468.63H933.6M929 457.1H932.6M923.4 445.57H933.6M929 434.04H932.6M923.4 422.51H933.6M929 410.98H932.6M923.4 399.45H929M929 629.6V635M946.57 625.6V629.6M964.15 625.6V629.6M981.72 625.6V629.6M999.29 625.6V629.6M1016.87 624.4V635M1034.44 625.6V629.6M1052.01 625.6V629.6M1069.59 625.6V629.6M1087.16 625.6V629.6M1104.73 624.4V635M1122.31 625.6V629.6M1139.88 625.6V629.6M1157.45 625.6V629.6M1175.03 625.6V629.6M1192.6 624.4V635M1210.17 625.6V629.6M1227.75 625.6V629.6M1245.32 625.6V629.6M1262.89 625.6V629.6M1280.47 624.4V635M1298.04 625.6V629.6M1315.61 625.6V629.6" stroke="#8c8c8c" stroke-width="1" fill="none"/>
<rect x="929" y="399" width="395.4" height="230.6" fill="none" stroke="#1e1e1e" stroke-width="1.5"/>
<path d="M939 511.6C940.98 509.57 947.45 502.85 950.9 499.4C954.35 495.95 955.93 493.23 959.7 490.9C963.47 488.57 967.55 487 973.5 485.4C979.45 483.8 987.92 482.67 995.4 481.3C1002.88 479.93 1007.33 478.82 1018.4 477.2C1029.47 475.58 1047.1 473.2 1061.85 471.6C1076.6 470 1091.94 468.53 1106.9 467.6C1121.86 466.67 1136.7 466.72 1151.6 466C1166.5 465.28 1181.13 463.95 1196.3 463.3C1211.47 462.65 1227.4 462.55 1242.6 462.1C1257.8 461.65 1280.02 460.85 1287.5 460.6" fill="none" stroke="#0a0a0a" stroke-width="1.5"/>
<g><polygon points="939,506.8 944,517.2 934,517.2" fill="#fff" stroke="#0a0a0a" stroke-width="1.3" stroke-linejoin="miter"/><polygon points="950.9,494.6 955.9,505 945.9,505" fill="#fff" stroke="#0a0a0a" stroke-width="1.3" stroke-linejoin="miter"/><polygon points="959.7,486.1 964.7,496.5 954.7,496.5" fill="#fff" stroke="#0a0a0a" stroke-width="1.3" stroke-linejoin="miter"/><polygon points="973.5,480.6 978.5,491 968.5,491" fill="#fff" stroke="#0a0a0a" stroke-width="1.3" stroke-linejoin="miter"/><polygon points="995.4,476.5 1000.4,486.9 990.4,486.9" fill="#fff" stroke="#0a0a0a" stroke-width="1.3" stroke-linejoin="miter"/><polygon points="1018.4,472.4 1023.4,482.8 1013.4,482.8" fill="#fff" stroke="#0a0a0a" stroke-width="1.3" stroke-linejoin="miter"/><polygon points="1061.85,466.8 1066.85,477.2 1056.85,477.2" fill="#fff" stroke="#0a0a0a" stroke-width="1.3" stroke-linejoin="miter"/><polygon points="1106.9,462.8 1111.9,473.2 1101.9,473.2" fill="#fff" stroke="#0a0a0a" stroke-width="1.3" stroke-linejoin="miter"/><polygon points="1151.6,461.2 1156.6,471.6 1146.6,471.6" fill="#fff" stroke="#0a0a0a" stroke-width="1.3" stroke-linejoin="miter"/><polygon points="1196.3,458.5 1201.3,468.9 1191.3,468.9" fill="#fff" stroke="#0a0a0a" stroke-width="1.3" stroke-linejoin="miter"/><polygon points="1242.6,457.3 1247.6,467.7 1237.6,467.7" fill="#fff" stroke="#0a0a0a" stroke-width="1.3" stroke-linejoin="miter"/><polygon points="1287.5,455.8 1292.5,466.2 1282.5,466.2" fill="#fff" stroke="#0a0a0a" stroke-width="1.3" stroke-linejoin="miter"/></g>
<path d="M939 546.1C940.98 543.58 947.45 534.9 950.9 531C954.35 527.1 955.93 525.47 959.7 522.7C963.47 519.93 967.55 517.17 973.5 514.4C979.45 511.63 987.92 508.4 995.4 506.1C1002.88 503.8 1007.33 502.92 1018.4 500.6C1029.47 498.28 1047.1 494.52 1061.85 492.2C1076.6 489.88 1091.94 488.3 1106.9 486.7C1121.86 485.1 1136.7 483.73 1151.6 482.6C1166.5 481.47 1181.13 480.78 1196.3 479.9C1211.47 479.02 1227.4 477.95 1242.6 477.3C1257.8 476.65 1280.02 476.22 1287.5 476" fill="none" stroke="#0a0a0a" stroke-width="1.5"/>
<g><polygon points="939,541.3 944,551.7 934,551.7" fill="#0a0a0a" stroke="#0a0a0a" stroke-width="1.3" stroke-linejoin="miter"/><polygon points="950.9,526.2 955.9,536.6 945.9,536.6" fill="#0a0a0a" stroke="#0a0a0a" stroke-width="1.3" stroke-linejoin="miter"/><polygon points="959.7,517.9 964.7,528.3 954.7,528.3" fill="#0a0a0a" stroke="#0a0a0a" stroke-width="1.3" stroke-linejoin="miter"/><polygon points="973.5,509.6 978.5,520 968.5,520" fill="#0a0a0a" stroke="#0a0a0a" stroke-width="1.3" stroke-linejoin="miter"/><polygon points="995.4,501.3 1000.4,511.7 990.4,511.7" fill="#0a0a0a" stroke="#0a0a0a" stroke-width="1.3" stroke-linejoin="miter"/><polygon points="1018.4,495.8 1023.4,506.2 1013.4,506.2" fill="#0a0a0a" stroke="#0a0a0a" stroke-width="1.3" stroke-linejoin="miter"/><polygon points="1061.85,487.4 1066.85,497.8 1056.85,497.8" fill="#0a0a0a" stroke="#0a0a0a" stroke-width="1.3" stroke-linejoin="miter"/><polygon points="1106.9,481.9 1111.9,492.3 1101.9,492.3" fill="#0a0a0a" stroke="#0a0a0a" stroke-width="1.3" stroke-linejoin="miter"/><polygon points="1151.6,477.8 1156.6,488.2 1146.6,488.2" fill="#0a0a0a" stroke="#0a0a0a" stroke-width="1.3" stroke-linejoin="miter"/><polygon points="1196.3,475.1 1201.3,485.5 1191.3,485.5" fill="#0a0a0a" stroke="#0a0a0a" stroke-width="1.3" stroke-linejoin="miter"/><polygon points="1242.6,472.5 1247.6,482.9 1237.6,482.9" fill="#0a0a0a" stroke="#0a0a0a" stroke-width="1.3" stroke-linejoin="miter"/><polygon points="1287.5,471.2 1292.5,481.6 1282.5,481.6" fill="#0a0a0a" stroke="#0a0a0a" stroke-width="1.3" stroke-linejoin="miter"/></g>
<path d="M1207.6 577.6H1243" stroke="#0a0a0a" stroke-width="1.5"/>
<polygon points="1224.5,573.8 1228.2,582.1 1220.8,582.1" fill="#fff" stroke="#0a0a0a" stroke-width="1.2"/>
<path d="M1207.6 606.2H1243" stroke="#0a0a0a" stroke-width="1.5"/>
<polygon points="1224.5,602.4 1228.2,610.7 1220.8,610.7" fill="#0a0a0a" stroke="#0a0a0a" stroke-width="1.2"/>
<text y="584" font-size="15" font-style="italic" fill="#000"><tspan x="1246.9" font-size="15.7">V</tspan><tspan x="1254.62" dy="2.6" font-style="normal" font-size="10.5">S</tspan><tspan x="1266.63" dy="-2.6">-</tspan><tspan x="1278.85" font-size="14">yx</tspan></text>
<text y="612.1" font-size="15" font-style="italic" fill="#000"><tspan x="1246.4" font-size="15.7">V</tspan><tspan x="1253.62" dy="2.6" font-style="normal" font-size="10.5">S</tspan><tspan x="1266.13" dy="-2.6">-</tspan><tspan x="1275.8" font-size="14">zx</tspan></text>
<text x="929" y="661.9" font-size="16" text-anchor="middle" fill="#000">0</text>
<text x="1016.87" y="661.9" font-size="16" text-anchor="middle" fill="#000">100</text>
<text x="1104.73" y="661.9" font-size="16" text-anchor="middle" fill="#000">200</text>
<text x="1192.6" y="661.9" font-size="16" text-anchor="middle" fill="#000">300</text>
<text x="1280.47" y="661.9" font-size="16" text-anchor="middle" fill="#000">400</text>
</g>
<text x="631.8" y="28.3" font-size="38.7" fill="#000">KB1</text>
<text x="638.7" y="368.6" font-size="38.7" fill="#000">KB4</text>
<text x="585.2" y="703.3" font-size="31" font-weight="bold" fill="#000" textLength="214.6" lengthAdjust="spacingAndGlyphs">Pressure (MPa)</text>
<g transform="translate(29.4 521.3) rotate(-90)"><text x="0" y="0" font-size="33" fill="#000" textLength="372.2" lengthAdjust="spacingAndGlyphs">Shear wave velocity (km s</text><text x="377.2" y="-9.4" font-size="28" fill="#000">−1</text><text x="405.4" y="0" font-size="33" fill="#000">)</text></g>
</svg>
</body>
</html>
